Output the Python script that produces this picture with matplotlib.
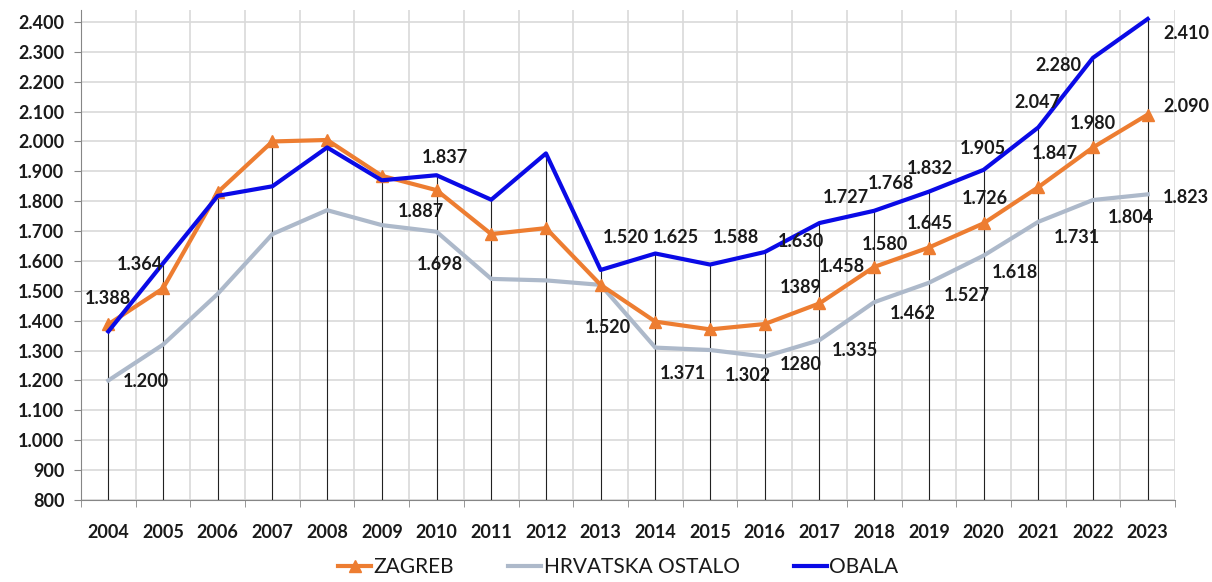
import matplotlib
matplotlib.use("Agg")
import matplotlib.pyplot as plt
import numpy as np

years = [str(y) for y in range(2004, 2024)]

zagreb = [1388, 1508, 1830, 2000, 2005, 1885, 1837, 1690, 1710, 1520,
          1397, 1371, 1389, 1458, 1580, 1645, 1726, 1847, 1980, 2090]
hrvatska_ostalo = [1200, 1320, 1490, 1690, 1770, 1720, 1698, 1540, 1535, 1520,
                   1310, 1302, 1280, 1335, 1462, 1527, 1618, 1731, 1804, 1823]
obala = [1364, 1592, 1818, 1850, 1980, 1870, 1887, 1805, 1960, 1570,
         1625, 1588, 1630, 1727, 1768, 1832, 1905, 2047, 2280, 2410]

# value labels as printed in the source (text, category position, value position)
label_texts = ["1.388", "1.364", "1.200", "1.887", "1.837", "1.698",
               "1.520", "1.625", "1.588", "1.520", "1.371", "1.302",
               "1280", "1389", "1.630", "1.727", "1.768", "1.832",
               "1.905", "2.047", "2.280", "2.410", "1.458", "1.580",
               "1.645", "1.726", "1.847", "1.980", "2.090", "1.823",
               "1.804", "1.731", "1.618", "1.527", "1.462", "1.335"]
label_x = [0.0, 0.585, 0.695, 5.71, 6.16, 6.07,
           9.46, 10.37, 11.47, 9.14, 10.50, 11.69,
           12.66, 12.66, 12.66, 13.48, 14.30, 15.01,
           15.98, 16.99, 17.37, 19.71, 13.41, 14.19,
           15.01, 16.02, 17.30, 18.00, 19.71, 19.70,
           18.69, 17.70, 16.57, 15.69, 14.70, 13.64]
label_y = [1473, 1587, 1198, 1764, 1948, 1587,
           1680, 1680, 1680, 1376, 1225, 1218,
           1252, 1510, 1664, 1814, 1858, 1908,
           1978, 2132, 2253, 2363, 1580, 1654,
           1727, 1808, 1961, 2059, 2116, 1814,
           1747, 1680, 1560, 1483, 1423, 1299]

ORANGE = "#ED7D31"
GRAY = "#ADB9CA"
BLUE = "#0A0AE6"
GRID = "#D9D9D9"
AXIS = "#868686"
TEXT = "#1a1a1a"
FS = 13

plt.rcParams["font.family"] = ["Lato", "DejaVu Sans"]

fig = plt.figure(figsize=(12.12, 5.82), dpi=100)
ax = fig.add_axes([0.0668, 0.1409, 0.9027, 0.8419])

x = np.arange(len(years))
ax.set_xlim(-0.5, len(years) - 0.5)
ax.set_ylim(800, 2440)

# grid
ax.set_yticks(np.arange(800, 2401, 100))
ax.set_yticklabels([f"{v:,}".replace(",", ".") for v in range(800, 2401, 100)])
ax.set_xticks(x)
ax.set_xticklabels(years)
ax.set_xticks(np.arange(-0.5, len(years)), minor=True)
ax.grid(axis="y", which="major", color=GRID, linewidth=1.2)
ax.grid(axis="x", which="minor", color=GRID, linewidth=1.2)
ax.set_axisbelow(True)

# drop lines from the highest series
tops = np.max(np.vstack([zagreb, hrvatska_ostalo, obala]), axis=0)
ax.vlines(x, 800, tops, color="#222222", linewidth=0.8, zorder=1)

ax.plot(x, hrvatska_ostalo, color=GRAY, linewidth=3, label="HRVATSKA OSTALO", zorder=3)
ax.plot(x, zagreb, color=ORANGE, linewidth=3, marker="^", markersize=9,
        label="ZAGREB", zorder=4)
ax.plot(x, obala, color=BLUE, linewidth=3, label="OBALA", zorder=5)

for t, lx, ly in zip(label_texts, label_x, label_y):
    ax.text(lx, ly, t, ha="center", va="center", fontsize=FS,
            fontweight="bold", color=TEXT, zorder=6)

for s in ("top", "right"):
    ax.spines[s].set_visible(False)
ax.spines["left"].set_color(AXIS)
ax.spines["bottom"].set_color(AXIS)
ax.tick_params(axis="y", length=5, color=AXIS, labelsize=FS, pad=7,
               labelcolor=TEXT)
ax.tick_params(axis="x", which="major", length=0, labelsize=FS, pad=17,
               labelcolor=TEXT)
ax.tick_params(axis="x", which="minor", length=5, color=AXIS)
for lab in ax.get_xticklabels() + ax.get_yticklabels():
    lab.set_fontweight("bold")

handles, labels = ax.get_legend_handles_labels()
order = [1, 0, 2]
fig.legend([handles[i] for i in order], [labels[i] for i in order],
           loc="lower center", bbox_to_anchor=(0.510, -0.024), ncols=3,
           frameon=False, fontsize=15, handlelength=1.6, handletextpad=0.1,
           columnspacing=2.6, labelcolor=TEXT)

fig.savefig("out.png", dpi=100)
